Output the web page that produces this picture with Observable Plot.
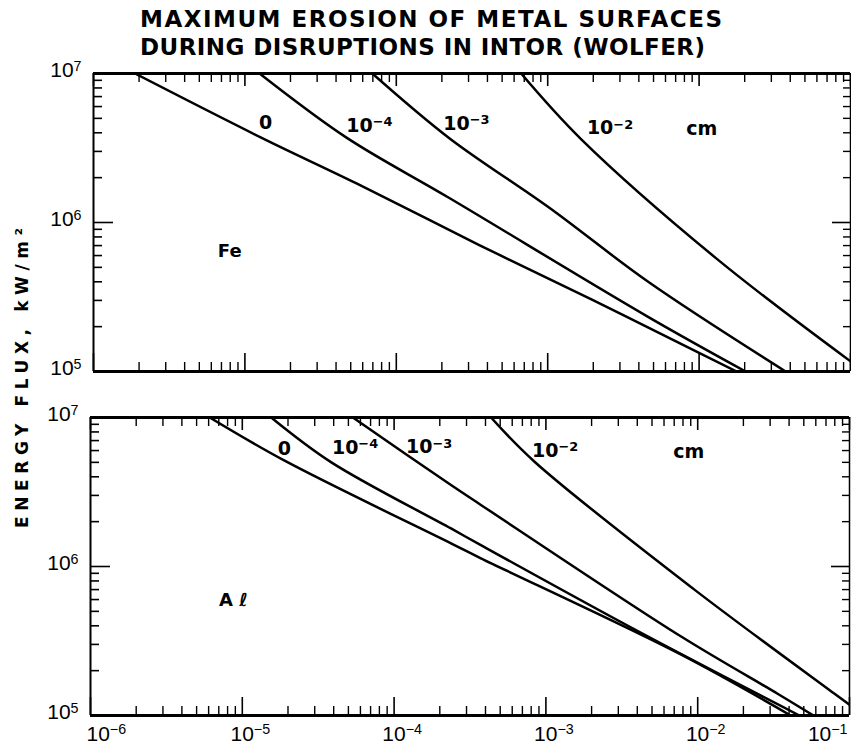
<!DOCTYPE html>
<html><head><meta charset="utf-8">
<script src="https://cdn.jsdelivr.net/npm/d3@7"></script>
<script src="https://cdn.jsdelivr.net/npm/@observablehq/plot@0.6"></script>
<style>
body{margin:0;background:#fff;}
#fig{position:relative;width:851px;height:755px;overflow:hidden;background:#fff;}
#fig > svg{position:absolute;left:0;}
</style></head><body><div id="fig"></div>
<script>
// ---------- text ----------
const titleLines = ["MAXIMUM EROSION OF METAL SURFACES", "DURING DISRUPTIONS IN INTOR (WOLFER)"];
const yAxisTitle = "ENERGY FLUX, kW/m²";
// ---------- ticks ----------
const xTicks = [1e-6, 1e-5, 1e-4, 1e-3, 1e-2, 1e-1];
const xTickLabels = ["10^−6", "10^−5", "10^−4", "10^−3", "10^−2", "10^−1"];
const yTicks = [1e5, 1e6, 1e7];
const yTickLabels = ["10^5", "10^6", "10^7"];
const minorSteps = [2, 3, 4, 5, 6, 7, 8, 9];
// ---------- curves: erosion depth (cm) ----------
const depths = ["0", "10^−4", "10^−3", "10^−2"];
// Fe
const feX0 = [1.88e-6, 1.29e-5, 5.46e-5, 3.53e-4, 1.96e-3, 4.66e-3, 1.77e-2];
const feY0 = [1e7, 3.70e6, 1.83e6, 7.06e5, 3.04e5, 1.96e5, 1e5];
const feX4 = [1.25e-5, 4.69e-5, 2.24e-4, 4.66e-3, 2.03e-2];
const feY4 = [1e7, 3.71e6, 1.46e6, 2.31e5, 1e5];
const feX3 = [6.95e-5, 2.24e-4, 1.02e-3, 4.66e-3, 3.73e-2];
const feY3 = [1e7, 3.68e6, 1.26e6, 3.97e5, 1e5];
const feX2 = [6.68e-4, 1.66e-3, 1.31e-2, 1e-1];
const feY2 = [1e7, 3.63e6, 5.70e5, 1.17e5];
// Al
const alX0 = [6.10e-6, 1.90e-5, 2.37e-4, 3.73e-4, 7.73e-3, 4.10e-2];
const alY0 = [1e7, 5.13e6, 1.43e6, 1.135e6, 2.57e5, 1e5];
const alX4 = [1.55e-5, 3.86e-5, 2.37e-4, 3.73e-4, 4.42e-3, 4.68e-2];
const alY4 = [1e7, 5.00e6, 1.80e6, 1.39e6, 3.50e5, 1e5];
const alX3 = [5.35e-5, 2.37e-4, 3.73e-4, 7.73e-3, 3.36e-2, 5.79e-2];
const alY3 = [1e7, 3.52e6, 2.59e6, 3.40e5, 1.40e5, 1e5];
const alX2 = [4.35e-4, 8.38e-4, 9.42e-3, 7.89e-2, 1e-1];
const alY2 = [1e7, 5.07e6, 7.05e5, 1.41e5, 1.18e5];
// ---------- in-plot labels ----------
const labelTexts = ["0", "10^−4", "10^−3", "10^−2", "cm"];
const feLabelX = [1.37e-5, 6.65e-5, 2.90e-4, 2.58e-3, 1.04e-2];
const feLabelY = [4.67e6, 4.47e6, 4.58e6, 4.29e6, 4.25e6];
const alLabelX = [1.89e-5, 5.53e-5, 1.70e-4, 1.15e-3, 8.73e-3];
const alLabelY = [6.17e6, 6.27e6, 6.31e6, 5.98e6, 5.86e6];
const metalNames = ["Fe", "A ℓ"];
const metalX = [7.94e-6, 8.73e-6];
const metalY = [6.38e5, 5.92e5];

// ---------- build tables ----------
function series(xs, ys, depth) { return xs.map((x, i) => ({x, y: ys[i], depth})); }
const feLines = [...series(feX0, feY0, depths[0]), ...series(feX4, feY4, depths[1]),
                 ...series(feX3, feY3, depths[2]), ...series(feX2, feY2, depths[3])];
const alLines = [...series(alX0, alY0, depths[0]), ...series(alX4, alY4, depths[1]),
                 ...series(alX3, alY3, depths[2]), ...series(alX2, alY2, depths[3])];
const feLabels = labelTexts.map((t, i) => ({x: feLabelX[i], y: feLabelY[i], t}));
const alLabels = labelTexts.map((t, i) => ({x: alLabelX[i], y: alLabelY[i], t}));
const xMinor = xTicks.slice(0, -1).flatMap(d => minorSteps.map(k => k * d));
const yMinor = yTicks.slice(0, -1).flatMap(d => minorSteps.map(k => k * d));
const xLab = xTicks.map((x, i) => ({x, t: xTickLabels[i], i}));

const W = 851, innerH = 298;

function panel({lines, labels, mi, mt, mb, ml, mr, showX}) {
  const innerW = W - ml - mr;
  const marks = [
    // inward ticks
    Plot.ruleX(xMinor, {x: d => d, insetTop: innerH - 9, strokeWidth: 1.4}),
    Plot.ruleX(xTicks, {x: d => d, insetTop: innerH - 18, strokeWidth: 1.6}),
    Plot.ruleX(xMinor, {x: d => d, insetBottom: innerH - 9, strokeWidth: 1.4}),
    Plot.ruleX(xTicks, {x: d => d, insetBottom: innerH - 13, strokeWidth: 1.6}),
    Plot.ruleY(yMinor, {y: d => d, insetRight: innerW - 9, strokeWidth: 1.6}),
    Plot.ruleY(yTicks, {y: d => d, insetRight: innerW - 20, strokeWidth: 1.6}),
    Plot.ruleY(yMinor, {y: d => d, insetLeft: innerW - 7, strokeWidth: 1.4}),
    Plot.ruleY(yTicks, {y: d => d, insetLeft: innerW - 18, strokeWidth: 1.6}),
    // frame
    Plot.ruleY([yTicks[2]], {y: d => d, strokeWidth: 3.2}),
    Plot.ruleY([yTicks[0]], {y: d => d, strokeWidth: 3.2}),
    Plot.ruleX([xTicks[0]], {x: d => d, strokeWidth: 2}),
    Plot.ruleX([xTicks[5]], {x: d => d, strokeWidth: 1.5}),
    // curves
    Plot.line(lines, {x: "x", y: "y", z: "depth", curve: "catmull-rom", strokeWidth: 2.5, clip: true}),
    // labels
    Plot.text(labels, {x: "x", y: "y", text: "t", fontSize: 19, fontWeight: "bold", fontFamily: "DejaVu Sans"}),
    Plot.text([metalNames[mi]], {x: () => metalX[mi], y: () => metalY[mi], text: d => d, fontSize: 18, fontWeight: "bold", fontFamily: "DejaVu Sans"}),
    Plot.axisY(yTicks, {label: null, tickSize: 0, tickPadding: 12, dy: -3, tickFormat: d => yTickLabels[yTicks.indexOf(d)]})
  ];
  if (showX) {
    marks.push(
      Plot.text(xLab.filter(d => d.i === 0), {x: "x", text: "t", frameAnchor: "bottom", dy: 25, dx: -4, textAnchor: "start"}),
      Plot.text(xLab.filter(d => d.i > 0 && d.i < 5), {x: "x", text: "t", frameAnchor: "bottom", dy: 25, dx: 8}),
      Plot.text(xLab.filter(d => d.i === 5), {x: "x", text: "t", frameAnchor: "bottom", dy: 25, dx: -2, textAnchor: "end"})
    );
  }
  return Plot.plot({
    width: W, height: mt + innerH + mb,
    marginTop: mt, marginBottom: mb, marginLeft: ml, marginRight: mr,
    x: {type: "log", domain: [xTicks[0], xTicks[5]], axis: null},
    y: {type: "log", domain: [yTicks[0], yTicks[2]], axis: null},
    style: {fontFamily: "Liberation Sans, Arial, sans-serif", fontSize: "21px", color: "black", background: "transparent", overflow: "visible"},
    marks
  });
}

function supify(svg) {
  d3.select(svg).selectAll("text").each(function () {
    const s = this.textContent;
    if (!s.includes("^")) return;
    const [b, e] = s.split("^");
    const sel = d3.select(this);
    sel.text(null);
    sel.append("tspan").text(b);
    sel.append("tspan").attr("dy", "-0.45em").attr("font-size", "0.68em").text(e);
  });
}

const fig = document.getElementById("fig");
const top1 = panel({lines: feLines, labels: feLabels, mi: 0, mt: 73, mb: 4, ml: 93, mr: 1, showX: false});
top1.style.top = "0px";
const bot = panel({lines: alLines, labels: alLabels, mi: 1, mt: 37, mb: 40, ml: 90, mr: 2, showX: true});
bot.style.top = "380px";
supify(top1); supify(bot);
fig.appendChild(top1); fig.appendChild(bot);

// title and y-axis title overlay
const ov = d3.create("svg").attr("width", W).attr("height", 755).style("top", "0px").style("pointer-events", "none");
ov.append("text").attr("x", 140).attr("y", 27).attr("textLength", 582).attr("lengthAdjust", "spacing")
  .attr("font-family", "DejaVu Sans").attr("font-weight", "bold").attr("font-size", 23).text(titleLines[0]);
ov.append("text").attr("x", 140).attr("y", 55).attr("textLength", 565).attr("lengthAdjust", "spacing")
  .attr("font-family", "DejaVu Sans").attr("font-weight", "bold").attr("font-size", 23).text(titleLines[1]);
ov.append("text").attr("transform", "translate(28,378) rotate(-90)").attr("text-anchor", "middle")
  .attr("textLength", 300).attr("lengthAdjust", "spacing")
  .attr("font-family", "DejaVu Sans").attr("font-weight", "bold").attr("font-size", 17).text(yAxisTitle);
fig.appendChild(ov.node());
</script></body></html>
